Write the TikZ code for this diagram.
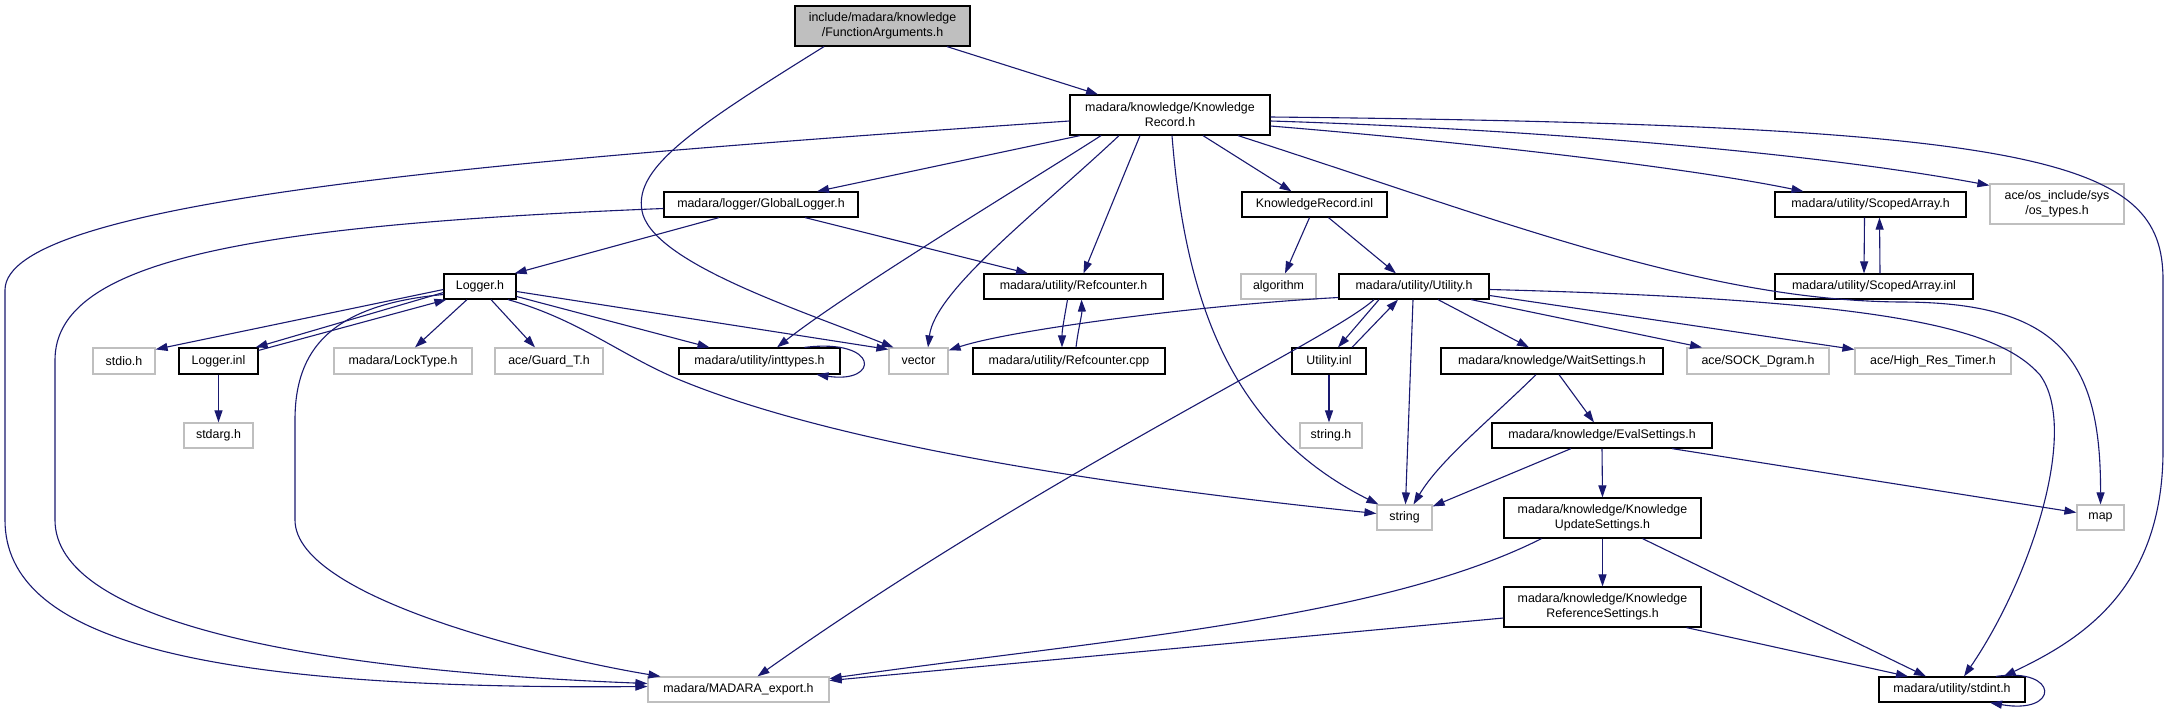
\documentclass[tikz,border=0pt]{standalone}
\usepackage{fontspec}
\setmainfont{Liberation Sans}
\usetikzlibrary{arrows.meta}
\definecolor{edgec}{HTML}{191970}
\definecolor{extb}{HTML}{BFBFBF}
\definecolor{fagray}{HTML}{BFBFBF}
\begin{document}
\begin{tikzpicture}[x=1pt,y=-1pt,
  nd/.style={draw=black, line width=1.2pt, fill=white, inner sep=0pt, align=center,
    font=\fontsize{12.4}{15}\selectfont, minimum height=25pt},
  ex/.style={nd, draw=extb},
  ed/.style={draw=edgec, line width=1.1pt, -{Triangle[length=12pt,width=8pt]}}]
\fill[white] (0,0) rectangle (2170,710);
\useasboundingbox (0,0) rectangle (2170,710);
% nodes
\node[nd, fill=fagray, minimum width=175pt, minimum height=40pt] (FA) at (882.5,26) {include/madara/knowledge\\/FunctionArguments.h};
\node[nd, minimum width=200pt, minimum height=40pt] (KRh) at (1170,115) {madara/knowledge/Knowledge\\Record.h};
\node[nd, minimum width=194pt] (GL) at (761,204.5) {madara/logger/GlobalLogger.h};
\node[nd, minimum width=145pt] (KRinl) at (1314.5,204.5) {KnowledgeRecord.inl};
\node[nd, minimum width=191pt] (SAh) at (1870.5,204.5) {madara/utility/ScopedArray.h};
\node[ex, minimum width=134pt, minimum height=40pt] (os) at (2057,204) {ace/os\_include/sys\\/os\_types.h};
\node[nd, minimum width=72pt] (Lh) at (480,286.5) {Logger.h};
\node[nd, minimum width=179pt] (Refh) at (1073.5,286.5) {madara/utility/Refcounter.h};
\node[ex, minimum width=75pt] (alg) at (1278.5,286.5) {algorithm};
\node[nd, minimum width=150pt] (Uh) at (1414,286.5) {madara/utility/Utility.h};
\node[nd, minimum width=198pt] (SAinl) at (1874,286.5) {madara/utility/ScopedArray.inl};
\node[ex, minimum width=62pt, minimum height=26pt] (stdio) at (124,361) {stdio.h};
\node[nd, minimum width=79pt, minimum height=26pt] (Linl) at (218.5,361) {Logger.inl};
\node[ex, minimum width=138pt, minimum height=26pt] (Lock) at (403,361) {madara/LockType.h};
\node[ex, minimum width=108pt, minimum height=26pt] (Guard) at (549,361) {ace/Guard\_T.h};
\node[nd, minimum width=161pt, minimum height=26pt] (intt) at (759.5,361) {madara/utility/inttypes.h};
\node[ex, minimum width=59pt, minimum height=26pt] (vector) at (918.5,361) {vector};
\node[nd, minimum width=192pt, minimum height=26pt] (Refcpp) at (1069,361) {madara/utility/Refcounter.cpp};
\node[nd, minimum width=74pt, minimum height=26pt] (Uinl) at (1329,361) {Utility.inl};
\node[nd, minimum width=222pt, minimum height=26pt] (Wait) at (1552,361) {madara/knowledge/WaitSettings.h};
\node[ex, minimum width=142pt, minimum height=26pt] (SOCK) at (1758,361) {ace/SOCK\_Dgram.h};
\node[ex, minimum width=156pt, minimum height=26pt] (HRT) at (1933,361) {ace/High\_Res\_Timer.h};
\node[ex, minimum width=69pt] (stdarg) at (218.5,435.5) {stdarg.h};
\node[ex, minimum width=62pt] (strh) at (1331,435.5) {string.h};
\node[nd, minimum width=220pt] (Eval) at (1602,435.5) {madara/knowledge/EvalSettings.h};
\node[ex, minimum width=55pt] (string) at (1404.5,517.5) {string};
\node[nd, minimum width=197pt, minimum height=40pt] (KUS) at (1602.5,518) {madara/knowledge/Knowledge\\UpdateSettings.h};
\node[ex, minimum width=47pt] (map) at (2100.5,517.5) {map};
\node[nd, minimum width=197pt, minimum height=40pt] (KRS) at (1602.5,607) {madara/knowledge/Knowledge\\ReferenceSettings.h};
\node[ex, minimum width=181pt] (MAD) at (738.5,689.5) {madara/MADARA\_export.h};
\node[nd, minimum width=146pt] (stdint) at (1952,689.5) {madara/utility/stdint.h};
% edges
\draw[ed] ([xshift=64.5pt]FA.south) -- ([xshift=-72pt]KRh.north);
\draw[ed] ([xshift=-58.5pt]FA.south) .. controls (690,130) and (630,170) .. (643,215) .. controls (660,265) and (800,310) .. ([xshift=-25pt]vector.north);
\draw[ed] ([yshift=-6pt]KRh.west) .. controls (500,160) and (5,200) .. (5,290) -- (5,520) .. controls (5,640) and (200,690) .. ([yshift=3pt]MAD.west);
\draw[ed] ([yshift=-4pt]GL.west) .. controls (250,225) and (55,260) .. (55,360) -- (55,520) .. controls (55,620) and (300,670) .. ([yshift=6pt]MAD.west);
\draw[ed] ([yshift=-8pt]Lh.west) .. controls (330,305) and (295,350) .. (295,420) -- (295,520) .. controls (295,600) and (560,660) .. ([xshift=-78pt]MAD.north);
\draw[ed] ([xshift=28pt]Lh.south) .. controls (580,320) and (620,355) .. (680,380) .. controls (850,450) and (1150,490) .. ([yshift=4pt]string.west);
\draw[ed] ([yshift=-3pt]Lh.west) -- ([yshift=-2pt]stdio.north east);
\draw[ed] ([yshift=-6pt]Lh.west) -- ([xshift=-3pt]Linl.north east);
\draw[ed] ([yshift=-3pt]Linl.north east) -- ([xshift=3pt]Lh.south west);
\draw[ed] (Linl.south) -- (stdarg.north);
\draw[ed] ([xshift=-13pt]Lh.south) -- ([xshift=12pt]Lock.north);
\draw[ed] ([xshift=11pt]Lh.south) -- ([xshift=-14pt]Guard.north);
\draw[ed] ([yshift=-10pt]Lh.east) -- ([xshift=-50pt]intt.north);
\draw[ed] ([yshift=-5pt]Lh.east) -- ([yshift=-2pt]vector.north west);
\draw[ed] ([xshift=-42pt]GL.south) -- ([xshift=-2pt]Lh.north east);
\draw[ed] ([xshift=44pt]GL.south) -- ([xshift=-45.5pt]Refh.north);
\draw[ed] ([xshift=-90pt]KRh.south) -- ([xshift=56pt]GL.north);
\draw[ed] ([xshift=-69pt]KRh.south) .. controls (1040,175) and (850,290) .. ([xshift=17.5pt]intt.north);
\draw[ed] ([xshift=-51pt]KRh.south) .. controls (1040,210) and (935,290) .. ([xshift=9.5pt]vector.north);
\draw[ed] ([xshift=-30pt]KRh.south) -- ([xshift=10pt]Refh.north);
\draw[ed] ([xshift=2pt]KRh.south) .. controls (1185,300) and (1230,430) .. ([xshift=2pt]string.north west);
\draw[ed] ([xshift=33pt]KRh.south) -- ([xshift=-23pt]KRinl.north);
\draw[ed] ([xshift=68pt]KRh.south) .. controls (1500,220) and (1700,300) .. (1900,302) .. controls (2060,302) and (2101,360) .. (map.north);
\draw[ed] ([yshift=-11pt]KRh.east) .. controls (1500,145) and (1700,170) .. ([xshift=-67pt]SAh.north);
\draw[ed] ([yshift=-6pt]KRh.east) .. controls (1500,128) and (1800,150) .. ([yshift=-2pt]os.north west);
\draw[ed] ([yshift=-2pt]KRh.east) .. controls (2050,125) and (2163,160) .. (2163,280) -- (2163,450) .. controls (2163,590) and (2080,640) .. ([xshift=-22pt]stdint.north east);
\draw[ed] ([xshift=-5pt]KRinl.south) -- ([xshift=6.5pt]alg.north);
\draw[ed] ([xshift=14pt]KRinl.south) -- ([xshift=-18pt]Uh.north);
\draw[ed] ([xshift=-6pt]Refh.south) .. controls (1064,320) and (1062,330) .. ([xshift=-7pt]Refcpp.north);
\draw[ed] ([xshift=7pt]Refcpp.north) .. controls (1078,330) and (1082,315) .. ([xshift=8pt]Refh.south);
\draw[ed] ([yshift=-11pt]Uh.west) .. controls (1200,305) and (1010,330) .. ([yshift=-3pt]vector.north east);
\draw[ed] ([xshift=-40pt]Uh.south) .. controls (1330,340) and (1050,470) .. ([xshift=19pt]MAD.north);
\draw[ed] ([xshift=-35pt]Uh.south) -- ([xshift=9pt]Uinl.north);
\draw[ed] ([xshift=23pt]Uinl.north) -- ([xshift=-16pt]Uh.south);
\draw[ed] (Uinl.south) -- ([xshift=-2pt]strh.north);
\draw[ed] ([xshift=-1pt]Uh.south) -- ([xshift=1pt]string.north);
\draw[ed] ([xshift=24pt]Uh.south) -- ([xshift=-23pt]Wait.north);
\draw[ed] ([xshift=57pt]Uh.south) -- ([xshift=-56pt]SOCK.north);
\draw[ed] ([yshift=-9pt]Uh.east) -- ([yshift=-2pt]HRT.north west);
\draw[ed] ([yshift=-3pt]Uh.east) .. controls (1900,300) and (2000,330) .. (2040,375) .. controls (2080,430) and (2030,580) .. ([xshift=12pt]stdint.north);
\draw[ed] ([xshift=-6pt]SAh.south) -- ([xshift=-10pt]SAinl.north);
\draw[ed] ([xshift=6pt]SAinl.north) -- ([xshift=9pt]SAh.south);
\draw[ed] ([xshift=-16pt]Wait.south) .. controls (1490,420) and (1440,460) .. ([xshift=9pt]string.north);
\draw[ed] ([xshift=7pt]Wait.south) -- ([xshift=-8pt]Eval.north);
\draw[ed] ([xshift=-31pt]Eval.south) -- ([yshift=-2pt]string.north east);
\draw[ed] (Eval.south) -- (KUS.north);
\draw[ed] ([xshift=70pt]Eval.south) -- ([yshift=5pt]map.west);
\draw[ed] ([xshift=-61pt]KUS.south) .. controls (1380,620) and (1100,640) .. ([yshift=11pt]MAD.east);
\draw[ed] (KUS.south) -- (KRS.north);
\draw[ed] ([xshift=40pt]KUS.south) -- ([xshift=-26pt]stdint.north);
\draw[ed] ([yshift=-11pt]KRS.west) -- ([yshift=9pt]MAD.east);
\draw[ed] ([xshift=84pt]KRS.south) -- ([xshift=-44pt]stdint.north);
\draw[ed] ([xshift=45pt]intt.north) .. controls (880,338) and (880,384) .. ([xshift=57pt]intt.south);
\draw[ed] ([xshift=44pt]stdint.north) .. controls (2060,667) and (2060,715) .. ([xshift=38pt]stdint.south);
\end{tikzpicture}
\end{document}
